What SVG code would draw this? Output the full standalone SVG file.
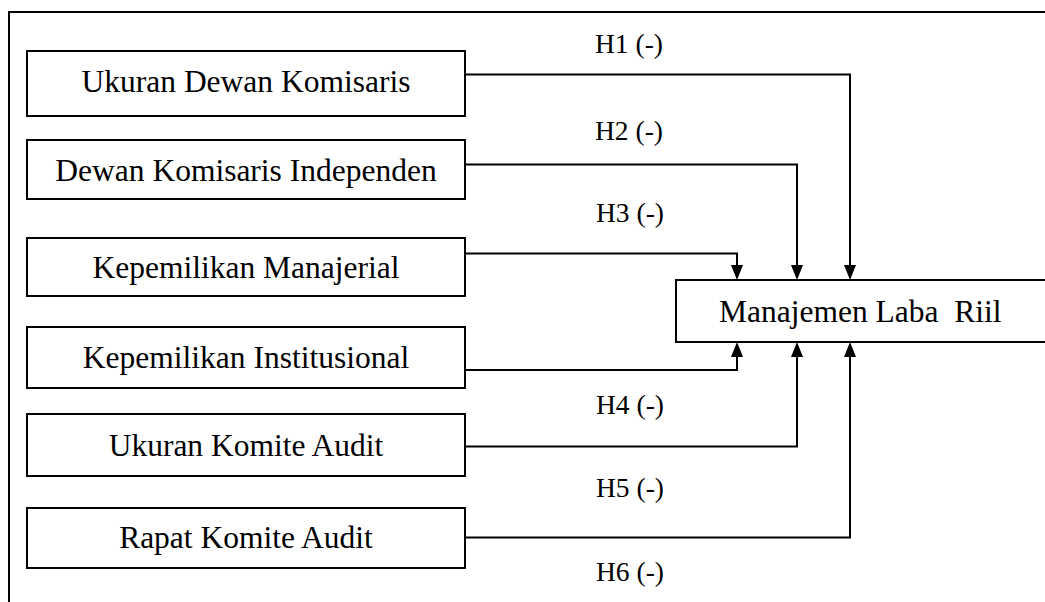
<svg xmlns="http://www.w3.org/2000/svg" width="1045" height="602" viewBox="0 0 1045 602">
<style>
.box{fill:#fff;stroke:#000;stroke-width:2}
.t{font-family:"Liberation Serif","Times New Roman",serif;font-size:31.5px;fill:#000;text-anchor:middle}
.l{font-family:"Liberation Serif","Times New Roman",serif;font-size:27.5px;fill:#000}
.c{fill:none;stroke:#000;stroke-width:2}
.a{fill:#000}
</style>
<rect width="1045" height="602" fill="#fff"/>
<path d="M9,602 V12 H1045" fill="none" stroke="#000" stroke-width="2"/>
<g id="n1"><rect class="box" x="27" y="51" width="438" height="65"/><text class="t" x="246" y="92">Ukuran Dewan Komisaris</text></g>
<g id="n2"><rect class="box" x="27" y="140" width="438" height="59"/><text class="t" x="246" y="181">Dewan Komisaris Independen</text></g>
<g id="n3"><rect class="box" x="27" y="238" width="438" height="58"/><text class="t" x="246" y="278">Kepemilikan Manajerial</text></g>
<g id="n4"><rect class="box" x="27" y="327" width="438" height="61"/><text class="t" x="246" y="368">Kepemilikan Institusional</text></g>
<g id="n5"><rect class="box" x="27" y="414" width="438" height="62"/><text class="t" x="246" y="456">Ukuran Komite Audit</text></g>
<g id="n6"><rect class="box" x="27" y="508" width="438" height="60"/><text class="t" x="246" y="548">Rapat Komite Audit</text></g>
<g id="target"><rect class="box" x="676" y="280" width="400" height="62"/><text class="t" x="719" y="322" style="text-anchor:start;white-space:pre" xml:space="preserve">Manajemen Laba  Riil</text></g>
<g id="connectors">
<path class="c" d="M465,74.5 H850 V266"/>
<path class="a" d="M844,265 H856 L850,280 Z"/>
<path class="c" d="M465,164.5 H797 V266"/>
<path class="a" d="M791,265 H803 L797,280 Z"/>
<path class="c" d="M465,253.5 H737 V266"/>
<path class="a" d="M731,265 H743 L737,280 Z"/>
<path class="c" d="M465,370 H737 V356"/>
<path class="a" d="M731,357 H743 L737,342 Z"/>
<path class="c" d="M465,446.5 H797 V356"/>
<path class="a" d="M791,357 H803 L797,342 Z"/>
<path class="c" d="M465,537.5 H850 V356"/>
<path class="a" d="M844,357 H856 L850,342 Z"/>
</g>
<g id="labels">
<text class="l" x="595" y="53">H1 (-)</text>
<text class="l" x="595" y="140">H2 (-)</text>
<text class="l" x="596" y="222">H3 (-)</text>
<text class="l" x="596" y="414">H4 (-)</text>
<text class="l" x="596" y="497">H5 (-)</text>
<text class="l" x="596" y="581">H6 (-)</text>
</g>
</svg>
